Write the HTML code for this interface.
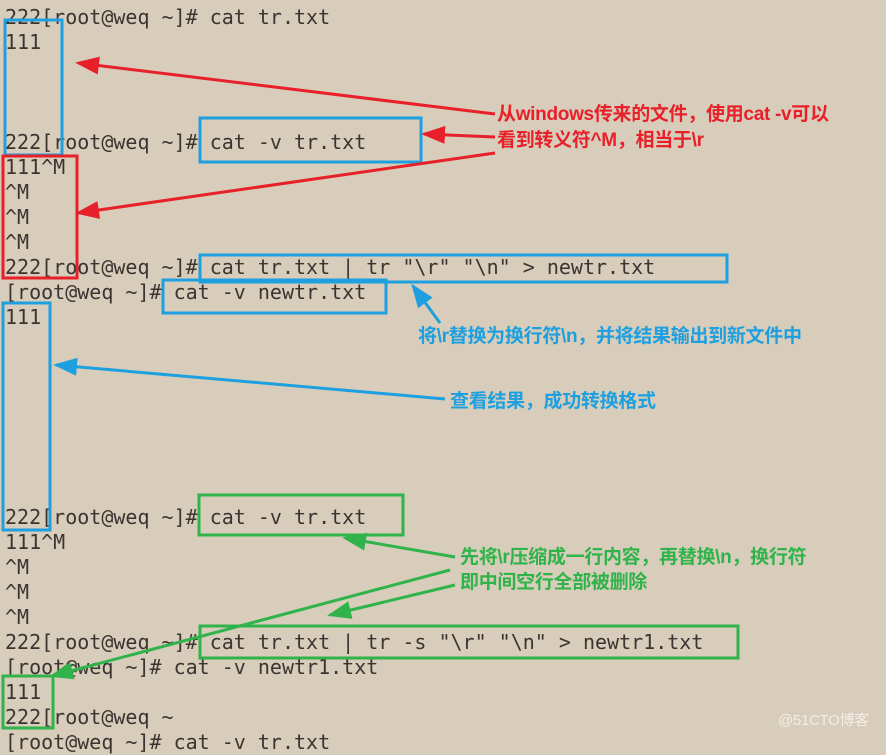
<!DOCTYPE html>
<html><head><meta charset="utf-8"><style>
body{margin:0;width:886px;height:740px;overflow:hidden;background:#d7cdba;position:relative}
.l{position:absolute;left:5px;margin:0;font-family:"DejaVu Sans Mono","Liberation Mono",monospace;font-size:20px;line-height:25px;color:#3a3530;white-space:pre}
.t{position:absolute;font-family:"Liberation Sans","Noto Sans CJK SC",sans-serif;font-weight:bold;font-size:19px;line-height:25px;white-space:nowrap;letter-spacing:-0.3px}
svg{position:absolute;left:0;top:0}
</style></head><body>
<div class="l" style="top:5px">222[root@weq ~]# cat tr.txt</div>
<div class="l" style="top:30px">111</div>
<div class="l" style="top:130px">222[root@weq ~]# cat -v tr.txt</div>
<div class="l" style="top:155px">111^M</div>
<div class="l" style="top:180px">^M</div>
<div class="l" style="top:205px">^M</div>
<div class="l" style="top:230px">^M</div>
<div class="l" style="top:255px">222[root@weq ~]# cat tr.txt | tr "\r" "\n" &gt; newtr.txt</div>
<div class="l" style="top:280px">[root@weq ~]# cat -v newtr.txt</div>
<div class="l" style="top:305px">111</div>
<div class="l" style="top:505px">222[root@weq ~]# cat -v tr.txt</div>
<div class="l" style="top:530px">111^M</div>
<div class="l" style="top:555px">^M</div>
<div class="l" style="top:580px">^M</div>
<div class="l" style="top:605px">^M</div>
<div class="l" style="top:630px">222[root@weq ~]# cat tr.txt | tr -s "\r" "\n" &gt; newtr1.txt</div>
<div class="l" style="top:655px">[root@weq ~]# cat -v newtr1.txt</div>
<div class="l" style="top:680px">111</div>
<div class="l" style="top:705px">222[root@weq ~</div>
<div class="l" style="top:730px">[root@weq ~]# cat -v tr.txt</div>
<svg width="886" height="740">
<defs>
<marker id="r" markerWidth="8" markerHeight="6" refX="7" refY="3" orient="auto" markerUnits="strokeWidth"><path d="M0,0L8,3L0,6z" fill="#e8202a"/></marker>
<marker id="b" markerWidth="8" markerHeight="6" refX="7" refY="3" orient="auto" markerUnits="strokeWidth"><path d="M0,0L8,3L0,6z" fill="#1ea0e0"/></marker>
<marker id="g" markerWidth="8" markerHeight="6" refX="7" refY="3" orient="auto" markerUnits="strokeWidth"><path d="M0,0L8,3L0,6z" fill="#2fb34a"/></marker>
</defs>
<g fill="none" stroke-width="3">
<g stroke="#1ea0e0">
<rect x="5" y="20" width="57" height="135"/>
<rect x="200" y="118" width="221" height="44"/>
<rect x="200" y="255" width="527" height="27"/>
<rect x="163" y="280" width="223" height="33"/>
<rect x="3" y="303" width="47" height="227"/>
</g>
<rect stroke="#e8202a" x="3" y="156" width="74" height="122"/>
<g stroke="#2fb34a">
<rect x="199" y="495" width="204" height="40"/>
<rect x="200" y="626" width="538" height="32"/>
<rect x="3" y="676" width="50" height="52"/>
</g>
</g>
<g stroke-width="3" fill="none">
<line stroke="#e8202a" x1="495" y1="114" x2="78" y2="63" marker-end="url(#r)"/>
<line stroke="#e8202a" x1="495" y1="137" x2="424" y2="134" marker-end="url(#r)"/>
<line stroke="#e8202a" x1="495" y1="153" x2="78" y2="213" marker-end="url(#r)"/>
<line stroke="#1ea0e0" x1="440" y1="323" x2="413" y2="286" marker-end="url(#b)"/>
<line stroke="#1ea0e0" x1="445" y1="399" x2="56" y2="365" marker-end="url(#b)"/>
<line stroke="#2fb34a" x1="455" y1="557" x2="345" y2="538" marker-end="url(#g)"/>
<line stroke="#2fb34a" x1="450" y1="570" x2="52" y2="676" marker-end="url(#g)"/>
<line stroke="#2fb34a" x1="455" y1="585" x2="330" y2="615" marker-end="url(#g)"/>
</g>
</svg>
<div class="t" style="left:497px;top:102px;color:#e8202a">从windows传来的文件，使用cat -v可以</div>
<div class="t" style="left:497px;top:128px;color:#e8202a">看到转义符^M，相当于\r</div>
<div class="t" style="left:418px;top:324px;color:#1ea0e0">将\r替换为换行符\n，并将结果输出到新文件中</div>
<div class="t" style="left:450px;top:389px;color:#1ea0e0">查看结果，成功转换格式</div>
<div class="t" style="left:460px;top:545px;color:#2fb34a">先将\r压缩成一行内容，再替换\n，换行符</div>
<div class="t" style="left:460px;top:570px;color:#2fb34a">即中间空行全部被删除</div>
<div class="t" style="left:778px;top:708px;color:#f2eee6;font-weight:normal;font-size:15px">@51CTO博客</div>
</body></html>
